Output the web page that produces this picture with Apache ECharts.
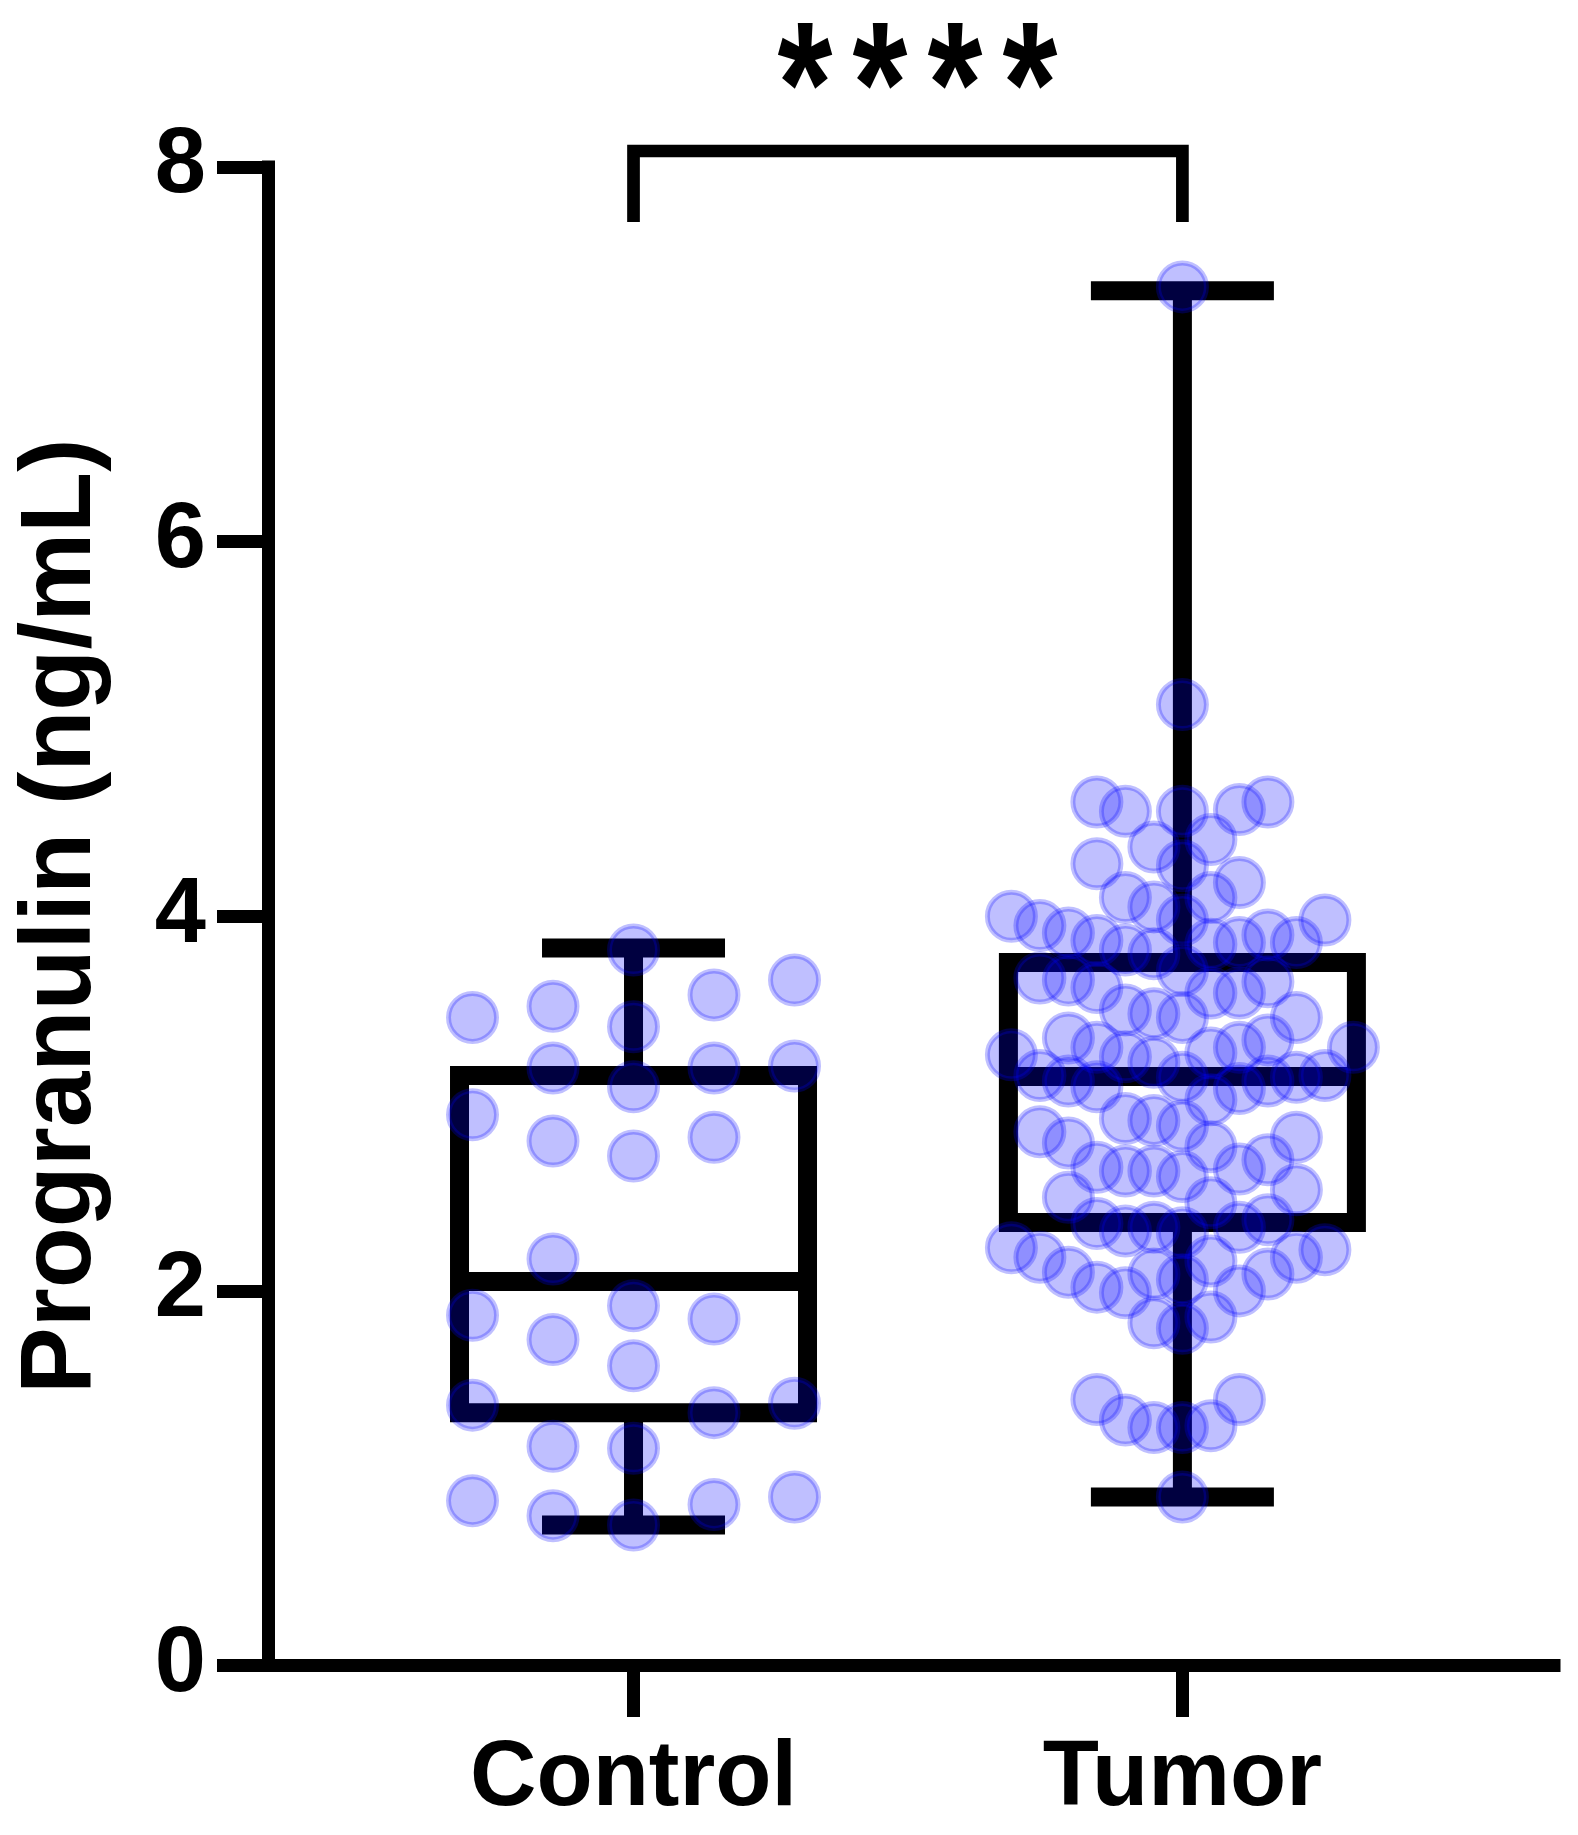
<!DOCTYPE html>
<html>
<head>
<meta charset="utf-8">
<script src="https://cdn.jsdelivr.net/npm/echarts@6.0.0/dist/echarts.min.js"></script>
<style>
  html, body { margin: 0; padding: 0; background: #ffffff; }
  #chart { width: 1578px; height: 1835px; }
</style>
</head>
<body>
<div id="chart"></div>
<script>
/* ===== data ===== */
const categories = ['Control', 'Tumor'];
const yTicks = { min: 0, max: 8, interval: 2 };
const yTitle = 'Progranulin (ng/mL)';
const significance = '****';

// individual samples (ng/mL)
const controlValues = [
  3.66, 2.94, 1.35, 0.80,
  3.82, 3.52, 3.19, 2.80, 1.87, 1.40, 0.90,
  3.41, 3.09, 2.72, 2.17, 1.92, 1.17, 0.86,
  3.58, 3.19, 1.85, 1.60, 1.16, 0.88,
  3.46, 3.20, 2.82, 1.74, 1.39, 0.75,
];
const tumorValues = [
  7.36, 5.13,
  4.56, 4.56, 4.61, 4.61, 4.57,
  4.41, 4.37, 4.28, 4.27, 4.18, 4.10, 4.10, 4.05,
  3.95, 3.90, 3.98, 4.00, 3.98, 3.91, 3.87, 3.85, 3.86, 3.82, 3.80, 3.86, 3.71,
  3.59, 3.66, 3.65, 3.59, 3.50, 3.67, 3.62, 3.46, 3.48, 3.46,
  3.30, 3.34, 3.35, 3.30, 3.30, 3.26, 3.25, 3.27, 3.22,
  3.08, 3.15, 3.09, 3.14, 3.12, 3.02, 3.14, 3.12, 3.15,
  2.92, 2.88, 2.91, 2.85, 2.77, 2.79, 2.82, 2.70, 2.66,
  2.65, 2.64, 2.64, 2.61, 2.54, 2.50, 2.47,
  2.38, 2.36, 2.31, 2.32, 2.34, 2.34,
  2.23, 2.22, 2.18, 2.18, 2.16,
  2.09, 2.06, 2.00, 2.02, 2.09, 2.10, 1.99,
  1.83, 1.86, 1.80,
  1.42, 1.42, 1.27, 1.31, 1.27, 1.28,
  0.90,
];

// box summaries: [min, Q1, median, Q3, max]
const controlBox = [0.75, 1.35, 2.05, 3.15, 3.83];
const tumorBox = [0.90, 2.365, 3.145, 3.753, 7.34];

/* ===== styling ===== */
const ink = '#000000';
const fontFamily = '"Liberation Sans", Arial, sans-serif';
const dotFill = 'rgba(0, 0, 255, 0.25)';

const chart = echarts.init(document.getElementById('chart'), null, { renderer: 'canvas' });

function boxRenderItem(params, api) {
  const x = api.value(0);
  const cx = api.coord([x, api.value(1)])[0];
  const yMin = api.coord([x, api.value(1)])[1];
  const yQ1 = api.coord([x, api.value(2)])[1];
  const yMed = api.coord([x, api.value(3)])[1];
  const yQ3 = api.coord([x, api.value(4)])[1];
  const yMax = api.coord([x, api.value(5)])[1];
  const hw = 174, capHw = 91.5;
  const st = { stroke: ink, lineWidth: 19, fill: null };
  return {
    type: 'group',
    children: [
      { type: 'line', shape: { x1: cx, y1: yMax, x2: cx, y2: yQ3 }, style: st },
      { type: 'line', shape: { x1: cx, y1: yQ1, x2: cx, y2: yMin }, style: st },
      { type: 'line', shape: { x1: cx - capHw, y1: yMax, x2: cx + capHw, y2: yMax }, style: st },
      { type: 'line', shape: { x1: cx - capHw, y1: yMin, x2: cx + capHw, y2: yMin }, style: st },
      {
        type: 'rect',
        shape: { x: cx - hw, y: yQ3, width: hw * 2, height: yQ1 - yQ3 },
        style: { stroke: ink, lineWidth: 19, fill: 'none', lineJoin: 'miter' },
      },
      { type: 'line', shape: { x1: cx - hw, y1: yMed, x2: cx + hw, y2: yMed }, style: st },
    ],
  };
}

function bracketRenderItem(params, api) {
  const p1 = api.coord([api.value(0), yTicks.max]);
  const p2 = api.coord([api.value(1), yTicks.max]);
  const top = p1[1] - 16;
  const bottom = p1[1] + 55;
  const mid = (p1[0] + p2[0]) / 2 + 9.5;
  const stars = significance.split('').map((ch, k, all) => ({
    type: 'text',
    x: mid + (k - (all.length - 1) / 2) * 75,
    y: top - 56,
    scaleY: 1.25,
    style: {
      text: ch,
      fill: ink,
      font: 'bold 141px ' + fontFamily,
      align: 'center',
      verticalAlign: 'middle',
    },
  }));
  return {
    type: 'group',
    children: [
      {
        type: 'polyline',
        shape: { points: [[p1[0], bottom], [p1[0], top], [p2[0], top], [p2[0], bottom]] },
        style: { stroke: ink, lineWidth: 12.7, fill: null, lineJoin: 'miter' },
      },
      ...stars,
    ],
  };
}

chart.setOption({
  animation: false,
  backgroundColor: '#ffffff',
  grid: { left: 268.5, right: 24, top: 167, bottom: 169.5, containLabel: false },
  xAxis: {
    type: 'value',
    min: 0.335,
    max: 2.677,
    axisLine: { show: true, lineStyle: { color: ink, width: 13, cap: 'square' } },
    axisTick: { show: true, customValues: [1, 2], length: 51.5, lineStyle: { color: ink, width: 13 } },
    axisLabel: {
      customValues: [1, 2],
      formatter: v => categories[Math.round(v) - 1] || '',
      color: ink,
      fontSize: 92,
      fontWeight: 'bold',
      fontFamily: fontFamily,
      margin: 68,
    },
    splitLine: { show: false },
  },
  yAxis: {
    type: 'value',
    min: yTicks.min,
    max: yTicks.max,
    interval: yTicks.interval,
    name: yTitle,
    nameLocation: 'middle',
    nameRotate: 90,
    nameGap: 156,
    nameTextStyle: { color: ink, fontSize: 100, fontWeight: 'bold', fontFamily: fontFamily },
    axisLine: { show: true, lineStyle: { color: ink, width: 13, cap: 'square' } },
    axisTick: { show: true, length: 51.5, lineStyle: { color: ink, width: 13 } },
    axisLabel: {
      color: ink,
      fontSize: 92,
      fontWeight: 'bold',
      fontFamily: fontFamily,
      margin: 62.5,
    },
    splitLine: { show: false },
  },
  series: [
    {
      name: 'box',
      type: 'custom',
      z: 2,
      renderItem: boxRenderItem,
      encode: { x: 0, y: [1, 2, 3, 4, 5] },
      data: [[1, ...controlBox], [2, ...tumorBox]],
    },
    {
      name: 'bracket',
      type: 'custom',
      z: 2,
      clip: false,
      renderItem: bracketRenderItem,
      encode: { x: [0, 1] },
      data: [[1, 2]],
    },
  ],
});

/* ===== beeswarm spread: columns filled centre-out, computed from the values ===== */
function swarmOffsets(values, pxPerY, stepPx, nSide, vGap) {
  const order = values.map((v, i) => i).sort((a, b) => values[a] - values[b] || a - b);
  const slots = [0];
  for (let k = 1; k <= nSide; k++) slots.push(-k, k);
  const columns = {};
  slots.forEach(s => { columns[s] = []; });
  const offsets = new Array(values.length).fill(0);
  order.forEach(i => {
    const y = values[i] * pxPerY;
    let best = 0, bestD = -1;
    for (const s of slots) {
      let dMin = Infinity;
      columns[s].forEach(py => { dMin = Math.min(dMin, Math.abs(py - y)); });
      if (dMin >= vGap) { best = s; break; }
      if (dMin > bestD) { bestD = dMin; best = s; }
    }
    columns[best].push(y);
    offsets[i] = best * stepPx;
  });
  return offsets;
}

const o = chart.convertToPixel({ gridIndex: 0 }, [1, 0]);
const oX = chart.convertToPixel({ gridIndex: 0 }, [2, 0]);
const oY = chart.convertToPixel({ gridIndex: 0 }, [1, 1]);
const pxPerX = oX[0] - o[0];
const pxPerY = o[1] - oY[1];

function swarmData(values, cat, stepPx, nSide, vGap) {
  const off = swarmOffsets(values, pxPerY, stepPx, nSide, vGap);
  return values.map((v, i) => [cat + off[i] / pxPerX, v]);
}

const dotStyle = {
  type: 'scatter',
  z: 3,
  symbol: 'circle',
  symbolSize: 48,
  silent: true,
  itemStyle: { color: dotFill, borderColor: dotFill, borderWidth: 5, opacity: 1 },
};

chart.setOption({
  series: [
    { name: 'box' },
    { name: 'bracket' },
    { name: 'Control', ...dotStyle, data: swarmData(controlValues, 1, 80.5, 2, 52) },
    { name: 'Tumor', ...dotStyle, data: swarmData(tumorValues, 2, 28.5, 6, 46) },
  ],
});

window.addEventListener('resize', () => chart.resize());
</script>
</body>
</html>
